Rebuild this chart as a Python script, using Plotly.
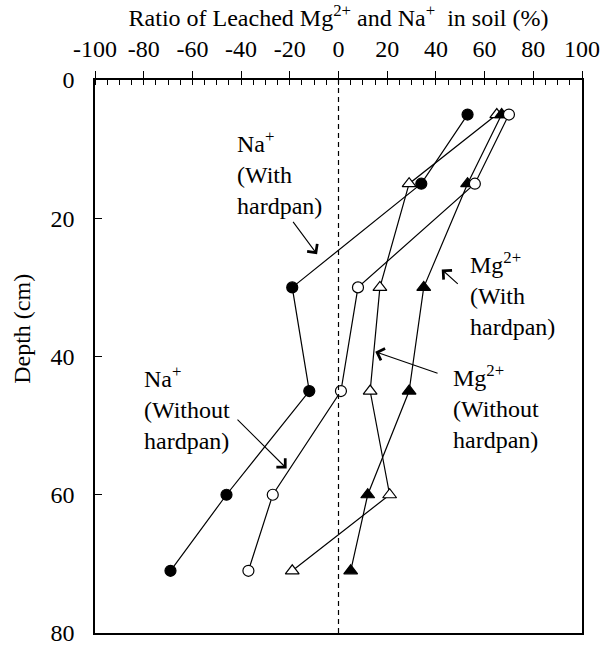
import plotly.graph_objects as go

depth = [5, 15, 30, 45, 60, 71]
na_with_hardpan = [53, 34, -19, -12, -46, -69]
na_without_hardpan = [70, 56, 8, 1, -27, -37]
mg_with_hardpan = [67, 53, 35, 29, 12, 5]
mg_without_hardpan = [65, 29, 17, 13, 21, -19]

x_ticks = list(range(-100, 101, 20))
x_tick_text = [str(v) for v in x_ticks]
y_ticks = [0, 20, 40, 60, 80]

FONT = "Liberation Serif, Times New Roman, serif"
FS = 24

fig = go.Figure()

series = [
    ("Mg2+ without hardpan", mg_without_hardpan, "triangle-up", "white"),
    ("Mg2+ with hardpan", mg_with_hardpan, "triangle-up", "black"),
    ("Na+ without hardpan", na_without_hardpan, "circle", "white"),
    ("Na+ with hardpan", na_with_hardpan, "circle", "black"),
]
for name, vals, sym, fill in series:
    fig.add_trace(go.Scatter(
        x=vals, y=depth, mode="lines+markers", name=name,
        line=dict(color="black", width=1.2),
        marker=dict(symbol=sym, size=11 if sym == "circle" else 12,
                    color=fill, line=dict(color="black", width=1.2)),
        showlegend=False, cliponaxis=False,
    ))

# invisible trace to host the overlay axis that draws inward halves of major ticks
fig.add_trace(go.Scatter(x=[x_ticks[0]], y=[y_ticks[0]], xaxis="x2", mode="markers",
                         marker=dict(opacity=0), showlegend=False, hoverinfo="skip"))

fig.add_vline(x=0, line=dict(color="black", width=1.2, dash="5px,4px"))

labels = [
    ("Na<sup>+</sup><br>(With<br>hardpan)", -42.5, 13.5),
    ("Na<sup>+</sup><br>(Without<br>hardpan)", -80.8, 47.5),
    ("Mg<sup>2+</sup><br>(With<br>hardpan)", 53.1, 31.0),
    ("Mg<sup>2+</sup><br>(Without<br>hardpan)", 46.1, 47.3),
]
for txt, xx, yy in labels:
    fig.add_annotation(text=txt, x=xx, y=yy, xref="x", yref="y", showarrow=False,
                       xanchor="left", yanchor="middle", align="left",
                       font=dict(family=FONT, size=FS, color="black"))

arrows = [
    ((-19.1, 20.3), (-8.8, 25.2)),
    ((-42.1, 48.9), (-21.3, 56.2)),
    ((49.6, 29.7), (42.4, 27.4)),
    ((41.3, 42.5), (15.1, 39.3)),
]
for (tx, ty), (hx, hy) in arrows:
    fig.add_annotation(text="", x=hx, y=hy, ax=tx, ay=ty, xref="x", yref="y",
                       axref="x", ayref="y", showarrow=True, arrowhead=4,
                       arrowsize=2.2, arrowwidth=1.1, arrowcolor="black", standoff=0)

fig.add_annotation(text="Depth (cm)", x=-0.15, y=0.55, xref="paper", yref="paper",
                   showarrow=False, textangle=-90, xanchor="center", yanchor="middle",
                   font=dict(family=FONT, size=FS, color="black"))

fig.update_layout(
    width=605, height=648,
    margin=dict(l=95, r=23, t=80, b=15, autoexpand=False),
    paper_bgcolor="white", plot_bgcolor="white",
    font=dict(family=FONT, size=FS, color="black"),
    xaxis=dict(
        side="top", range=[-100, 100], tickvals=x_ticks, ticktext=x_tick_text,
        ticks="outside", ticklen=7, tickwidth=1.2, tickcolor="black",
        minor=dict(dtick=5, ticks="inside", ticklen=5, tickwidth=1.1, tickcolor="black"),
        showline=True, linecolor="black", linewidth=1.5, mirror=True,
        showgrid=False, zeroline=False, ticklabelstandoff=5, automargin=False,
        title=dict(text="Ratio of Leached Mg<sup>2+</sup> and Na<sup>+</sup>  in soil (%)",
                   font=dict(family=FONT, size=FS), standoff=2),
        tickfont=dict(family=FONT, size=FS),
    ),
    xaxis2=dict(
        overlaying="x", side="top", range=[-100, 100], tickvals=x_ticks,
        ticks="inside", ticklen=5, tickwidth=1.2, tickcolor="black",
        showticklabels=False, showgrid=False, zeroline=False, showline=False,
        automargin=False,
    ),
    yaxis=dict(
        range=[80, 0], tickvals=y_ticks,
        ticks="inside", ticklen=7, tickwidth=1.2, tickcolor="black",
        showline=True, linecolor="black", linewidth=1.5, mirror=True,
        showgrid=False, zeroline=False, ticklabelstandoff=14, automargin=False,
        tickfont=dict(family=FONT, size=FS),
    ),
)

fig.write_html("out.html")
